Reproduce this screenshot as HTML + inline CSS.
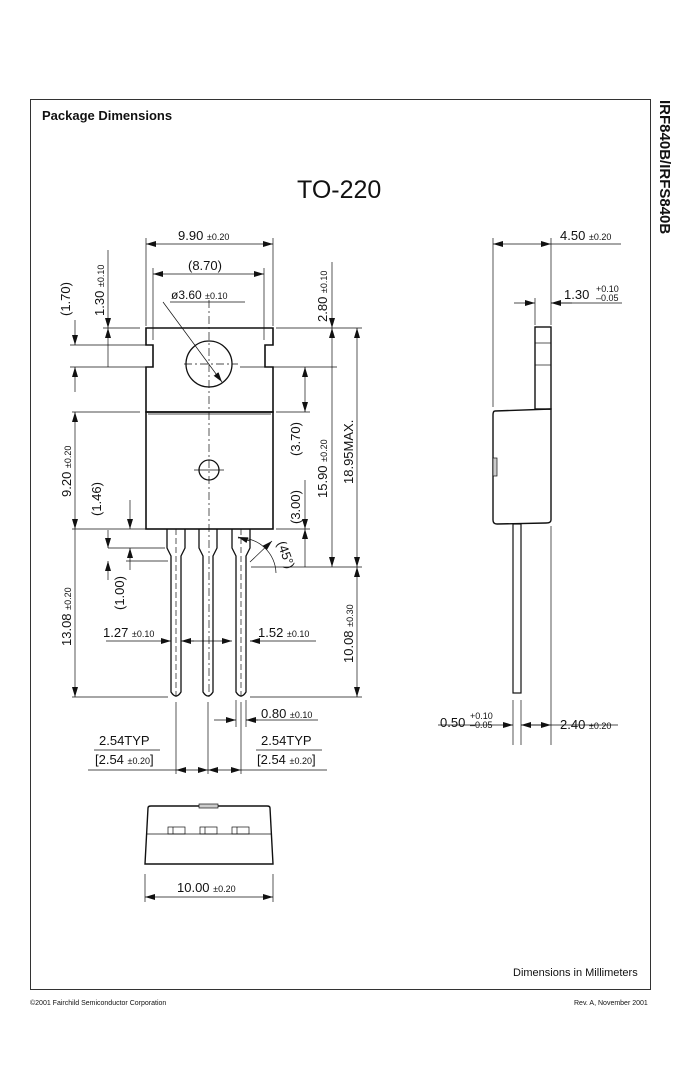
<!DOCTYPE html>
<html><head><meta charset="utf-8"><style>
html,body{margin:0;padding:0;background:#fff}
svg{display:block}
text{font-family:"Liberation Sans",sans-serif;fill:#111}
.s{font-size:9px}
</style></head><body>
<svg width="680" height="1090" viewBox="0 0 680 1090" xmlns="http://www.w3.org/2000/svg">
<defs>
<marker id="a" viewBox="0 0 10 6" refX="10" refY="3" markerWidth="10" markerHeight="6" markerUnits="userSpaceOnUse" orient="auto-start-reverse"><path d="M0,0L10,3L0,6z" fill="#111"/></marker>
</defs>
<rect x="30.5" y="99.5" width="620" height="890" fill="none" stroke="#333" stroke-width="1"/>
<text x="42" y="120" font-size="13" font-weight="bold">Package Dimensions</text>
<text x="297" y="198" font-size="25">TO-220</text>
<text transform="translate(660,100) rotate(90)" font-size="15" font-weight="bold">IRF840B/IRFS840B</text>
<text x="513" y="976" font-size="11">Dimensions in Millimeters</text>
<text x="30" y="1005" font-size="7">©2001 Fairchild Semiconductor Corporation</text>
<text x="574" y="1005" font-size="7">Rev. A, November 2001</text>

<g stroke="#111" fill="none" stroke-width="0.7">
<!-- front view package -->
<path d="M146,328H273V345H265V367H273V412H146V367H153V345H146Z" stroke-width="1.6"/>
<rect x="146" y="412" width="127" height="117" stroke-width="1.6"/>
<line x1="148" y1="414" x2="271" y2="414"/>
<circle cx="209" cy="364" r="23" stroke-width="1.3"/>
<circle cx="209" cy="470" r="10" stroke-width="1.3"/>
<line x1="209" y1="300" x2="209" y2="700" stroke-dasharray="8,3,2,3"/>
<line x1="184" y1="364" x2="238" y2="364" stroke-dasharray="8,3,2,3"/>
<line x1="194" y1="470" x2="224" y2="470"/>
<!-- leads -->
<g stroke-width="1.3">
<path d="M167,529V548L171,556V692Q176,700 181,692V556L185,548V529"/>
<path d="M199,529V548L203,556V692Q208,700 213,692V556L217,548V529"/>
<path d="M232,529V548L236,556V692Q241,700 246,692V556L250,548V529"/>
</g>
<g stroke-dasharray="6,3"><line x1="176" y1="529" x2="176" y2="700"/><line x1="241" y1="529" x2="241" y2="700"/></g>
<!-- 9.90 -->
<line x1="146" y1="326" x2="146" y2="238"/><line x1="273" y1="326" x2="273" y2="238"/>
<line x1="146" y1="244" x2="273" y2="244" marker-start="url(#a)" marker-end="url(#a)"/>
<!-- 8.70 -->
<line x1="153" y1="340" x2="153" y2="268"/><line x1="264" y1="340" x2="264" y2="268"/>
<line x1="153" y1="274" x2="264" y2="274" marker-start="url(#a)" marker-end="url(#a)"/>
<!-- dia -->
<line x1="170" y1="302" x2="245" y2="302"/>
<polyline points="163,302 222,382" marker-end="url(#a)"/>
<!-- left dims -->
<line x1="103" y1="328" x2="140" y2="328"/>
<line x1="70" y1="345" x2="150" y2="345"/><line x1="70" y1="367" x2="150" y2="367"/>
<line x1="75" y1="320" x2="75" y2="345" marker-end="url(#a)"/><line x1="75" y1="392" x2="75" y2="367" marker-end="url(#a)"/>
<line x1="108" y1="250" x2="108" y2="328" marker-end="url(#a)"/><line x1="108" y1="367" x2="108" y2="328" marker-end="url(#a)"/>
<line x1="72" y1="412" x2="140" y2="412"/>
<line x1="72" y1="529" x2="165" y2="529"/>
<line x1="72" y1="697" x2="168" y2="697"/>
<line x1="75" y1="412" x2="75" y2="529" marker-start="url(#a)" marker-end="url(#a)"/>
<line x1="75" y1="529" x2="75" y2="697" marker-end="url(#a)"/>
<line x1="108" y1="548" x2="165" y2="548"/><line x1="126" y1="561" x2="168" y2="561"/>
<line x1="130" y1="500" x2="130" y2="529" marker-end="url(#a)"/><line x1="130" y1="570" x2="130" y2="548" marker-end="url(#a)"/>
<line x1="108" y1="530" x2="108" y2="548" marker-end="url(#a)"/><line x1="108" y1="580" x2="108" y2="561" marker-end="url(#a)"/>
<!-- right dims -->
<line x1="276" y1="328" x2="362" y2="328"/>
<line x1="240" y1="367" x2="337" y2="367"/>
<line x1="276" y1="412" x2="310" y2="412"/>
<line x1="276" y1="529" x2="310" y2="529"/>
<line x1="251" y1="567" x2="362" y2="567"/>
<line x1="332" y1="262" x2="332" y2="328" marker-end="url(#a)"/><line x1="332" y1="367" x2="332" y2="328" marker-end="url(#a)"/>
<line x1="332" y1="367" x2="332" y2="567" marker-end="url(#a)"/>
<line x1="357" y1="328" x2="357" y2="567" marker-start="url(#a)" marker-end="url(#a)"/>
<line x1="305" y1="367" x2="305" y2="412" marker-start="url(#a)" marker-end="url(#a)"/>
<line x1="305" y1="480" x2="305" y2="529" marker-end="url(#a)"/><line x1="305" y1="567" x2="305" y2="529" marker-end="url(#a)"/>
<line x1="357" y1="567" x2="357" y2="697" marker-start="url(#a)" marker-end="url(#a)"/>
<line x1="250" y1="697" x2="362" y2="697"/>
<!-- 45 -->
<path d="M238,538 A36,36 0 0 1 276,573"/>
<line x1="250" y1="562" x2="272" y2="541" marker-end="url(#a)"/>
<line x1="250" y1="541" x2="238" y2="537" marker-end="url(#a)"/>
<!-- 1.27 / 1.52 -->
<line x1="106" y1="641" x2="171" y2="641" marker-end="url(#a)"/>
<line x1="194" y1="641" x2="181" y2="641" marker-end="url(#a)"/>
<line x1="181" y1="641" x2="232" y2="641" marker-end="url(#a)"/>
<line x1="260" y1="641" x2="250" y2="641" marker-end="url(#a)"/>
<line x1="250" y1="641" x2="316" y2="641"/>
<!-- 0.80 -->
<line x1="214" y1="720" x2="236" y2="720" marker-end="url(#a)"/>
<line x1="258" y1="720" x2="246" y2="720" marker-end="url(#a)"/>
<line x1="246" y1="720" x2="318" y2="720"/>
<line x1="236" y1="700" x2="236" y2="727"/><line x1="246" y1="700" x2="246" y2="727"/>
<!-- 2.54 -->
<line x1="176" y1="702" x2="176" y2="774"/><line x1="208" y1="702" x2="208" y2="774"/><line x1="241" y1="702" x2="241" y2="774"/>
<line x1="88" y1="770" x2="176" y2="770"/><line x1="241" y1="770" x2="327" y2="770"/>
<line x1="176" y1="770" x2="208" y2="770" marker-start="url(#a)" marker-end="url(#a)"/>
<line x1="208" y1="770" x2="241" y2="770" marker-start="url(#a)" marker-end="url(#a)"/>
<line x1="94" y1="750" x2="160" y2="750"/><line x1="256" y1="750" x2="322" y2="750"/>
<!-- bottom view -->
<path d="M148,808Q148,806 151,806H267Q270,806 270,808L273,864H145Z" stroke-width="1.4"/>
<line x1="147" y1="834" x2="271" y2="834"/>
<rect x="199" y="804" width="19" height="4" fill="#ccc"/>
<rect x="168" y="827" width="17" height="7"/><rect x="200" y="827" width="17" height="7"/><rect x="232" y="827" width="17" height="7"/>
<line x1="173" y1="827" x2="173" y2="834"/><line x1="205" y1="827" x2="205" y2="834"/><line x1="237" y1="827" x2="237" y2="834"/>
<line x1="145" y1="874" x2="145" y2="902"/><line x1="273" y1="874" x2="273" y2="902"/>
<line x1="145" y1="897" x2="273" y2="897" marker-start="url(#a)" marker-end="url(#a)"/>
<!-- side view -->
<rect x="535" y="327" width="16" height="82" stroke-width="1.4"/>
<line x1="535" y1="343" x2="551" y2="343"/><line x1="535" y1="365" x2="551" y2="365"/>
<path d="M495,411L551,409V520Q551,523 546,523L497,524Q493,524 493,520V415Q493,411 495,411Z" stroke-width="1.4"/>
<rect x="493" y="458" width="4" height="18" fill="#ccc"/>
<rect x="513" y="524" width="8" height="169" stroke-width="1.2"/>
<line x1="493" y1="407" x2="493" y2="238"/><line x1="551" y1="325" x2="551" y2="238"/>
<line x1="493" y1="244" x2="551" y2="244" marker-start="url(#a)" marker-end="url(#a)"/>
<line x1="551" y1="244" x2="621" y2="244"/>
<line x1="535" y1="325" x2="535" y2="298"/>
<line x1="514" y1="303" x2="535" y2="303" marker-end="url(#a)"/>
<line x1="572" y1="303" x2="551" y2="303" marker-end="url(#a)"/>
<line x1="551" y1="303" x2="622" y2="303"/>
<line x1="513" y1="700" x2="513" y2="745"/><line x1="521" y1="700" x2="521" y2="745"/>
<line x1="551" y1="526" x2="551" y2="745"/>
<line x1="438" y1="725" x2="513" y2="725" marker-end="url(#a)"/>
<line x1="541" y1="725" x2="521" y2="725" marker-end="url(#a)"/>
<line x1="521" y1="725" x2="551" y2="725" marker-end="url(#a)"/>
<line x1="551" y1="725" x2="618" y2="725"/>
</g>

<!-- labels -->
<text x="178" y="240" font-size="13">9.90 <tspan class="s">±0.20</tspan></text>
<text x="188" y="270" font-size="13">(8.70)</text>
<text x="171" y="299" font-size="12">ø3.60 <tspan class="s">±0.10</tspan></text>
<text transform="translate(70,316) rotate(-90)" font-size="13">(1.70)</text>
<text transform="translate(104,316) rotate(-90)" font-size="13">1.30 <tspan class="s">±0.10</tspan></text>
<text transform="translate(327,322) rotate(-90)" font-size="13">2.80 <tspan class="s">±0.10</tspan></text>
<text transform="translate(300,456) rotate(-90)" font-size="13">(3.70)</text>
<text transform="translate(300,524) rotate(-90)" font-size="13">(3.00)</text>
<text transform="translate(327,498) rotate(-90)" font-size="13">15.90 <tspan class="s">±0.20</tspan></text>
<text transform="translate(353,484) rotate(-90)" font-size="13">18.95MAX.</text>
<text transform="translate(71,497) rotate(-90)" font-size="13">9.20 <tspan class="s">±0.20</tspan></text>
<text transform="translate(101,516) rotate(-90)" font-size="13">(1.46)</text>
<text transform="translate(124,610) rotate(-90)" font-size="13">(1.00)</text>
<text transform="translate(71,646) rotate(-90)" font-size="13">13.08 <tspan class="s">±0.20</tspan></text>
<text transform="translate(353,663) rotate(-90)" font-size="13">10.08 <tspan class="s">±0.30</tspan></text>
<text transform="translate(277,543) rotate(70)" font-size="13">(45°)</text>
<text x="103" y="637" font-size="13">1.27 <tspan class="s">±0.10</tspan></text>
<text x="258" y="637" font-size="13">1.52 <tspan class="s">±0.10</tspan></text>
<text x="261" y="718" font-size="13">0.80 <tspan class="s">±0.10</tspan></text>
<text x="99" y="745" font-size="13">2.54TYP</text>
<text x="95" y="764" font-size="13">[2.54 <tspan class="s">±0.20</tspan>]</text>
<text x="261" y="745" font-size="13">2.54TYP</text>
<text x="257" y="764" font-size="13">[2.54 <tspan class="s">±0.20</tspan>]</text>
<text x="177" y="892" font-size="13">10.00 <tspan class="s">±0.20</tspan></text>
<text x="560" y="240" font-size="13">4.50 <tspan class="s">±0.20</tspan></text>
<text x="564" y="299" font-size="13">1.30</text>
<text x="596" y="292" font-size="9">+0.10</text>
<text x="596" y="301" font-size="9">–0.05</text>
<text x="440" y="727" font-size="13">0.50</text>
<text x="470" y="719" font-size="9">+0.10</text>
<text x="470" y="728" font-size="9">–0.05</text>
<text x="560" y="729" font-size="13">2.40 <tspan class="s">±0.20</tspan></text>
</svg>
</body></html>
